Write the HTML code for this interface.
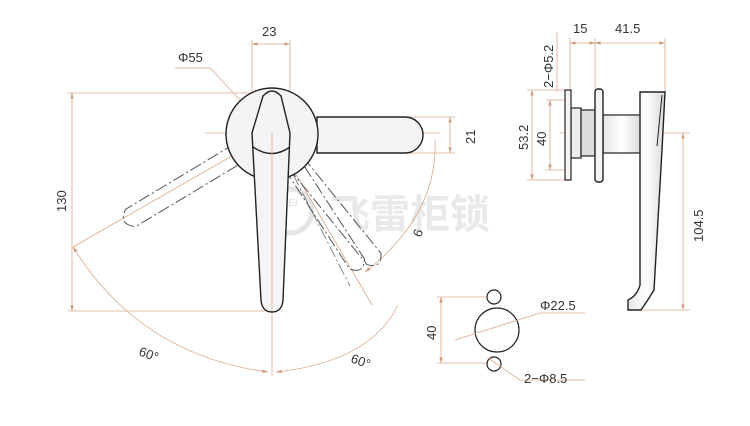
<!DOCTYPE html>
<html><head><meta charset="utf-8"><style>
html,body{margin:0;padding:0;background:#fff}
svg{display:block}
text{font-family:"Liberation Sans","Noto Sans CJK SC",sans-serif;fill:#333;font-size:13px}
.d{stroke:#dba98a;stroke-width:0.8;fill:none}
.o{stroke:#222;stroke-width:1.4;fill:#f4f4f4}
.dash{stroke:#555;stroke-width:1;fill:none;stroke-dasharray:12 3 2 3}
</style></head><body>
<svg width="750" height="426" viewBox="0 0 750 426" xmlns="http://www.w3.org/2000/svg">
<defs>
<marker id="a" viewBox="0 0 10 10" refX="10" refY="5" markerWidth="7" markerHeight="7" orient="auto-start-reverse"><path d="M0,2 L10,5 L0,8 z" fill="#c9987a"/></marker>
<linearGradient id="g" x1="0" x2="1"><stop offset="0" stop-color="#e6e6e6"/><stop offset="0.5" stop-color="#fff"/><stop offset="1" stop-color="#d8d8d8"/></linearGradient>
</defs>

<!-- watermark -->
<g opacity="0.5">
<circle cx="290" cy="211" r="22" fill="none" stroke="#ccc" stroke-width="5"/>
<text x="276" y="206" style="font-size:10px;fill:#ccc;font-weight:bold">FLEI</text>
<text x="330" y="228" style="font-size:40px;fill:#d4d4d4;font-weight:bold">飞雷柜锁</text>
</g>

<!-- main view dims -->
<line class="d" x1="205" y1="133" x2="440" y2="133"/>
<line class="d" x1="272" y1="133" x2="272" y2="376"/>
<line class="d" x1="252" y1="40" x2="252" y2="100"/>
<line class="d" x1="290" y1="40" x2="290" y2="100"/>
<line class="d" x1="252" y1="44" x2="290" y2="44" marker-start="url(#a)" marker-end="url(#a)"/>
<text x="262" y="36">23</text>
<polyline class="d" points="175,68 210,68 240,100"/>
<text x="178" y="62">Φ55</text>
<line class="d" x1="68" y1="93" x2="255" y2="93"/>
<line class="d" x1="68" y1="311" x2="265" y2="311"/>
<line class="d" x1="72" y1="93" x2="72" y2="311" marker-start="url(#a)" marker-end="url(#a)"/>
<text transform="translate(66,212) rotate(-90)">130</text>
<line class="d" x1="405" y1="117" x2="455" y2="117"/>
<line class="d" x1="405" y1="153" x2="455" y2="153"/>
<line class="d" x1="450" y1="117" x2="450" y2="153" marker-start="url(#a)" marker-end="url(#a)"/>
<text transform="translate(475,144) rotate(-90)">21</text>
<line class="d" x1="73" y1="247" x2="272" y2="133"/>
<line class="d" x1="272" y1="133" x2="372" y2="305"/>
<path class="d" d="M73,247 Q140,355 268,372" marker-start="url(#a)" marker-end="url(#a)"/>
<path class="d" d="M276,372 Q370,362 398,305" marker-start="url(#a)"/>
<path class="d" d="M365,272 Q438,215 435,140" marker-start="url(#a)"/>
<text transform="translate(138,355) rotate(20)">60°</text>
<text transform="translate(350,362) rotate(20)">60°</text>
<text transform="translate(415,228) rotate(110)">9</text>

<!-- dashed handles -->
<g transform="rotate(59 272 133)">
<path class="dash" d="M262,150 L262,298 Q272,312 282,298 L282,150"/>
</g>
<g transform="rotate(-27 272 133)">
<path class="dash" d="M272,160 L272,305" style="stroke:#888"/>
</g>
<g transform="rotate(-33 272 133)">
<path class="dash" d="M263,150 L263,289 Q272,302 281,289 L281,150"/>
</g>
<g transform="rotate(-39 272 133)">
<path class="dash" d="M263,150 L263,295 Q272,308 281,295 L281,150"/>
</g>

<!-- main handle -->
<path class="o" d="M317,117 L405,117 A18,18 0 0 1 405,153 L317,153 Z" fill="url(#g)"/>
<circle class="o" cx="272" cy="134" r="46" fill="url(#g)"/>
<path class="o" fill="url(#g)" d="M263,96 Q272,86 281,96 L290,133 L283,300 Q282,312 272,312 Q262,312 261,300 L252,133 Z"/>
<path d="M253,147 Q272,160 290,147" stroke="#222" stroke-width="1.4" fill="none"/>
<line class="d" x1="272" y1="133" x2="272" y2="311"/>

<!-- bottom hole view -->
<line class="d" x1="437" y1="297" x2="488" y2="297"/>
<line class="d" x1="437" y1="363" x2="488" y2="363"/>
<line class="d" x1="441" y1="297" x2="441" y2="363" marker-start="url(#a)" marker-end="url(#a)"/>
<text transform="translate(436,340) rotate(-90)">40</text>
<circle cx="494" cy="297" r="7" fill="#fff" stroke="#222" stroke-width="1.2"/>
<circle cx="497" cy="330" r="22" fill="#fff" stroke="#222" stroke-width="1.2"/>
<circle cx="494" cy="364" r="7" fill="#fff" stroke="#222" stroke-width="1.2"/>
<polyline class="d" points="585,313 540,313 455,340"/>
<text x="540" y="310">Φ22.5</text>
<polyline class="d" points="585,380 520,380 488,358"/>
<text x="524" y="383">2−Φ8.5</text>

<!-- side view -->
<line class="d" x1="570" y1="38" x2="570" y2="92"/>
<line class="d" x1="595" y1="38" x2="595" y2="90"/>
<line class="d" x1="665" y1="38" x2="665" y2="92"/>
<line class="d" x1="570" y1="43" x2="595" y2="43" marker-start="url(#a)" marker-end="url(#a)"/>
<line class="d" x1="595" y1="43" x2="665" y2="43" marker-start="url(#a)" marker-end="url(#a)"/>
<text x="573" y="33">15</text>
<text x="615" y="33">41.5</text>
<text transform="translate(553,88) rotate(-90)">2−Φ5.2</text>
<line class="d" x1="557" y1="32" x2="557" y2="92"/>
<line class="d" x1="527" y1="90" x2="568" y2="90"/>
<line class="d" x1="527" y1="180" x2="568" y2="180"/>
<line class="d" x1="532" y1="90" x2="532" y2="180" marker-start="url(#a)" marker-end="url(#a)"/>
<text transform="translate(528,150) rotate(-90)">53.2</text>
<line class="d" x1="546" y1="100" x2="568" y2="100"/>
<line class="d" x1="546" y1="170" x2="568" y2="170"/>
<line class="d" x1="550" y1="100" x2="550" y2="170" marker-start="url(#a)" marker-end="url(#a)"/>
<text transform="translate(546,146) rotate(-90)">40</text>
<line class="d" x1="560" y1="133" x2="690" y2="133"/>
<line class="d" x1="630" y1="310" x2="690" y2="310"/>
<line class="d" x1="683" y1="133" x2="683" y2="310" marker-start="url(#a)" marker-end="url(#a)"/>
<text transform="translate(703,242) rotate(-90)">104.5</text>

<rect x="603" y="115" width="38" height="38" fill="url(#g)" stroke="#222" stroke-width="1.2"/>
<rect x="571" y="108" width="10" height="50" fill="#eee" stroke="#222" stroke-width="1.2"/>
<rect x="581" y="110" width="14" height="46" fill="#ddd" stroke="#222" stroke-width="1.2"/>
<rect x="565" y="90" width="6" height="90" fill="#f4f4f4" stroke="#222" stroke-width="1.2"/>
<rect x="595" y="89" width="8" height="93" rx="3" fill="#f4f4f4" stroke="#222" stroke-width="1.4"/>
<path d="M640,92 L665,92 L662,150 L654,290 Q648,300 641,310 L628,310 L628,300 Q637,296 640,285 L640,150 Z" fill="url(#g)" stroke="#222" stroke-width="1.4"/>
<line x1="662" y1="95" x2="657" y2="146" stroke="#222" stroke-width="1"/>
</svg>
</body></html>
